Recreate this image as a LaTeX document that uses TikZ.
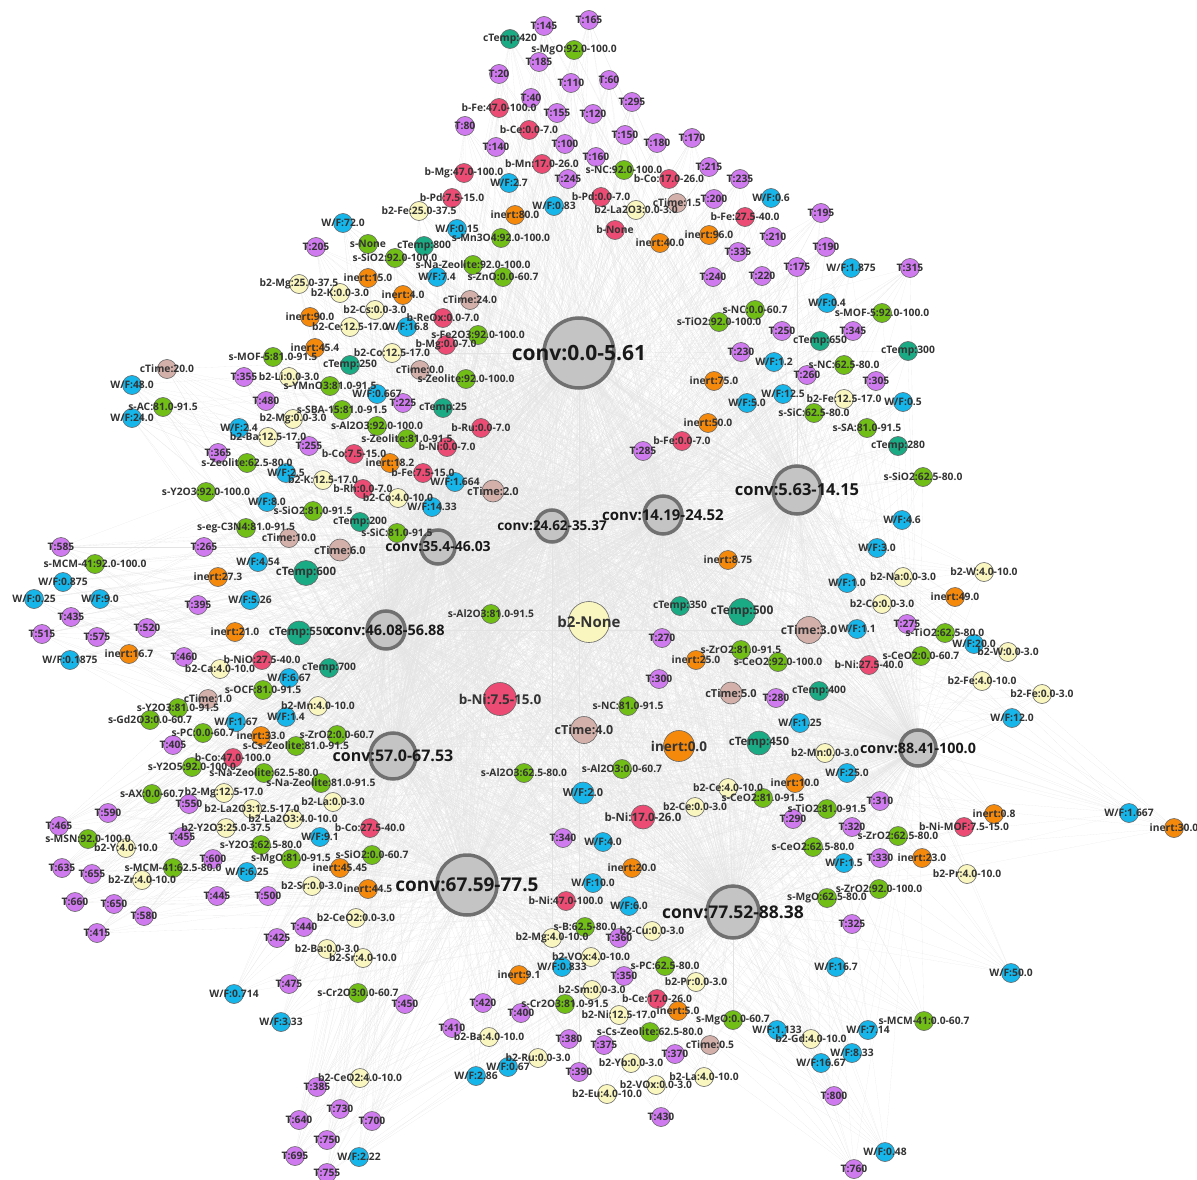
\documentclass[tikz,border=0pt]{standalone}
\usepackage{fontspec}
\setmainfont{Open Sans}
\definecolor{cT}{RGB}{208,122,240}
\definecolor{cW}{RGB}{22,182,235}
\definecolor{cS}{RGB}{112,190,22}
\definecolor{cB}{RGB}{236,76,116}
\definecolor{cY}{RGB}{250,246,192}
\definecolor{cI}{RGB}{245,137,12}
\definecolor{cC}{RGB}{26,170,132}
\definecolor{cM}{RGB}{212,176,170}
\definecolor{cHub}{RGB}{196,196,196}
\definecolor{cHubB}{RGB}{112,112,112}
\pgfdeclarelayer{edges}
\pgfsetlayers{edges,main}
\tikzset{
  dot/.style={circle, draw=black!60, line width=0.6pt, minimum size=19pt, inner sep=0pt},
  vT/.style={dot, fill=cT}, vW/.style={dot, fill=cW}, vS/.style={dot, fill=cS},
  vB/.style={dot, fill=cB}, vY/.style={dot, fill=cY}, vI/.style={dot, fill=cI},
  vC/.style={dot, fill=cC}, vM/.style={dot, fill=cM},
  hub/.style={circle, draw=cHubB, fill=cHub, line width=3.5pt, inner sep=0pt},
  lbl/.style={inner sep=0pt, text=black!80, font=\fontsize{10.3}{11}\selectfont\bfseries},
  hlbl/.style={inner sep=0pt, text=black!90},
  edge/.style={draw=black!11, line width=0.08pt}
}
\newcount\ndc
\newcommand\hubs{%
\hb{1}{579}{353}{70}{21}{conv:0.0-5.61}
\hb{2}{797}{490}{48}{16.5}{conv:5.63-14.15}
\hb{3}{663}{515}{38}{15}{conv:14.19-24.52}
\hb{4}{552}{526}{32}{13.5}{conv:24.62-35.37}
\hb{5}{438}{547}{34}{14}{conv:35.4-46.03}
\hb{6}{386}{630}{38}{14.5}{conv:46.08-56.88}
\hb{7}{393}{756}{46}{16}{conv:57.0-67.53}
\hb{8}{467}{885}{60}{19}{conv:67.59-77.5}
\hb{9}{733}{912}{52}{17.5}{conv:77.52-88.38}
\hb{10}{918}{748}{36}{14.3}{conv:88.41-100.0}
}
\newcommand\alldata{%
\nd{589}{20}{vT}{T:165}
\nd{544}{26}{vT}{T:145}
\nd{510}{39}{vC}{cTemp:420}
\nd{574}{50}{vS}{s-MgO:92.0-100.0}
\nd{539}{62}{vT}{T:185}
\nd{499}{74}{vT}{T:20}
\nd{571}{83}{vT}{T:110}
\nd{609}{80}{vT}{T:60}
\nd{531}{98}{vT}{T:40}
\nd{499}{108}{vB}{b-Fe:47.0-100.0}
\nd{632}{102}{vT}{T:295}
\nd{557}{113}{vT}{T:155}
\nd{593}{114}{vT}{T:120}
\nd{465}{126}{vT}{T:80}
\nd{529}{130}{vB}{b-Ce:0.0-7.0}
\nd{625}{135}{vT}{T:150}
\nd{657}{143}{vT}{T:180}
\nd{692}{138}{vT}{T:170}
\nd{496}{147}{vT}{T:140}
\nd{565}{144}{vT}{T:100}
\nd{596}{157}{vT}{T:160}
\nd{542}{164}{vB}{b-Mn:17.0-26.0}
\nd{709}{167}{vT}{T:215}
\nd{740}{179}{vT}{T:235}
\nd{464}{173}{vB}{b-Mg:47.0-100.0}
\nd{509}{183}{vW}{W/F:2.7}
\nd{568}{179}{vT}{T:245}
\nd{624}{170}{vS}{s-NC:92.0-100.0}
\nd{669}{179}{vB}{b-Co:17.0-26.0}
\nd{452}{198}{vB}{b-Pd:7.5-15.0}
\nd{419}{211}{vY}{b2-Fe:25.0-37.5}
\nd{515}{215}{vI}{inert:80.0}
\nd{554}{206}{vW}{W/F:0.83}
\nd{601}{197}{vB}{b-Pd:0.0-7.0}
\nd{636}{210}{vY}{b2-La2O3:0.0-3.0}
\nd{677}{203}{vM}{cTime:1.5}
\nd{714}{199}{vT}{T:200}
\nd{771}{198}{vW}{W/F:0.6}
\nd{745}{217}{vB}{b-Fe:27.5-40.0}
\nd{773}{237}{vT}{T:210}
\nd{615}{230}{vB}{b-None}
\nd{709}{235}{vI}{inert:96.0}
\nd{660}{243}{vI}{inert:40.0}
\nd{738}{252}{vT}{T:335}
\nd{457}{229}{vW}{W/F:0.15}
\nd{501}{238}{vS}{s-Mn3O4:92.0-100.0}
\nd{424}{246}{vC}{cTemp:800}
\nd{473}{265}{vS}{s-Na-Zeolite:92.0-100.0}
\nd{437}{277}{vW}{W/F:7.4}
\nd{503}{277}{vS}{s-ZnO:0.0-60.7}
\nd{713}{277}{vT}{T:240}
\nd{762}{276}{vT}{T:220}
\nd{797}{267}{vT}{T:175}
\nd{403}{295}{vI}{inert:4.0}
\nd{470}{300}{vM}{cTime:24.0}
\nd{821}{213}{vT}{T:195}
\nd{826}{247}{vT}{T:190}
\nd{851}{268}{vW}{W/F:1.875}
\nd{910}{268}{vT}{T:315}
\nd{343}{223}{vW}{W/F:72.0}
\nd{316}{247}{vT}{T:205}
\nd{368}{244}{vS}{s-None}
\nd{395}{258}{vS}{s-SiO2:92.0-100.0}
\nd{368}{278}{vI}{inert:15.0}
\nd{299}{284}{vY}{b2-Mg:25.0-37.5}
\nd{340}{293}{vY}{b2-K:0.0-3.0}
\nd{375}{310}{vY}{b2-Cs:0.0-3.0}
\nd{310}{317}{vI}{inert:90.0}
\nd{350}{327}{vY}{b2-Ce:12.5-17.0}
\nd{315}{348}{vI}{inert:45.4}
\nd{392}{353}{vY}{b2-Co:12.5-17.0}
\nd{273}{357}{vS}{s-MOF-5:81.0-91.5}
\nd{350}{365}{vC}{cTemp:250}
\nd{167}{369}{vM}{cTime:20.0}
\nd{132}{385}{vW}{W/F:48.0}
\nd{244}{377}{vT}{T:355}
\nd{289}{377}{vY}{b2-Li:0.0-3.0}
\nd{330}{386}{vS}{s-YMnO3:81.0-91.5}
\nd{377}{394}{vW}{W/F:0.667}
\nd{266}{401}{vT}{T:480}
\nd{163}{407}{vS}{s-AC:81.0-91.5}
\nd{132}{418}{vW}{W/F:24.0}
\nd{342}{410}{vS}{s-SBA-15:81.0-91.5}
\nd{293}{419}{vY}{b2-Mg:0.0-3.0}
\nd{377}{426}{vS}{s-Al2O3:92.0-100.0}
\nd{239}{428}{vW}{W/F:2.4}
\nd{268}{437}{vY}{b2-Ba:12.5-17.0}
\nd{309}{446}{vT}{T:255}
\nd{407}{439}{vS}{s-Zeolite:81.0-91.5}
\nd{218}{453}{vT}{T:365}
\nd{354}{454}{vB}{b-Co:7.5-15.0}
\nd{390}{463}{vI}{inert:18.2}
\nd{247}{463}{vS}{s-Zeolite:62.5-80.0}
\nd{286}{473}{vW}{W/F:2.5}
\nd{323}{480}{vY}{b2-K:12.5-17.0}
\nd{363}{489}{vB}{b-Rh:0.0-7.0}
\nd{398}{498}{vY}{b2-Co:4.0-10.0}
\nd{206}{492}{vS}{s-Y2O3:92.0-100.0}
\nd{267}{502}{vW}{W/F:8.0}
\nd{313}{511}{vS}{s-SiO2:81.0-91.5}
\nd{360}{522}{vC}{cTemp:200}
\nd{397}{533}{vS}{s-SiC:81.0-91.5}
\nd{246}{528}{vS}{s-eg-C3N4:81.0-91.5}
\nd{289}{538}{vM}{cTime:10.0}
\nd{61}{547}{vT}{T:585}
\nd{204}{547}{vT}{T:265}
\bn{340}{550}{vM}{22}{11}{cTime:6.0}
\nd{95}{564}{vS}{s-MCM-41:92.0-100.0}
\nd{258}{562}{vW}{W/F:4.54}
\bn{306}{573}{vC}{25}{11.5}{cTemp:600}
\nd{218}{577}{vI}{inert:27.3}
\nd{63}{582}{vW}{W/F:0.875}
\nd{34}{599}{vW}{W/F:0.25}
\nd{100}{599}{vW}{W/F:9.0}
\nd{198}{605}{vT}{T:395}
\nd{250}{600}{vW}{W/F:5.26}
\nd{443}{318}{vB}{b-ReOx:0.0-7.0}
\nd{407}{327}{vW}{W/F:16.8}
\nd{478}{335}{vS}{s-Fe2O3:92.0-100.0}
\nd{446}{345}{vB}{b-Mg:0.0-7.0}
\nd{420}{370}{vM}{cTime:0.0}
\nd{466}{379}{vS}{s-Zeolite:92.0-100.0}
\nd{403}{403}{vT}{T:225}
\nd{443}{408}{vC}{cTemp:25}
\nd{481}{428}{vB}{b-Ru:0.0-7.0}
\nd{447}{447}{vB}{b-Ni:0.0-7.0}
\nd{423}{473}{vB}{b-Fe:7.5-15.0}
\nd{455}{482}{vW}{W/F:1.664}
\bn{493}{491}{vM}{22}{11}{cTime:2.0}
\nd{432}{507}{vW}{W/F:14.33}
\nd{755}{310}{vS}{s-NC:0.0-60.7}
\nd{719}{322}{vS}{s-TiO2:92.0-100.0}
\nd{782}{331}{vT}{T:250}
\nd{741}{352}{vT}{T:230}
\nd{774}{362}{vW}{W/F:1.2}
\nd{714}{381}{vI}{inert:75.0}
\nd{783}{394}{vW}{W/F:12.5}
\nd{747}{403}{vW}{W/F:5.0}
\nd{708}{423}{vI}{inert:50.0}
\nd{682}{441}{vB}{b-Fe:0.0-7.0}
\nd{643}{451}{vT}{T:285}
\nd{728}{560}{vI}{inert:8.75}
\nd{827}{303}{vW}{W/F:0.4}
\nd{882}{313}{vS}{s-MOF-5:92.0-100.0}
\nd{853}{331}{vT}{T:345}
\nd{820}{341}{vC}{cTemp:650}
\nd{908}{351}{vC}{cTemp:300}
\nd{844}{365}{vS}{s-NC:62.5-80.0}
\nd{807}{375}{vT}{T:260}
\nd{876}{381}{vT}{T:305}
\nd{844}{399}{vY}{b2-Fe:12.5-17.0}
\nd{903}{402}{vW}{W/F:0.5}
\nd{814}{413}{vS}{s-SiC:62.5-80.0}
\nd{867}{428}{vS}{s-SA:81.0-91.5}
\nd{898}{446}{vC}{cTemp:280}
\nd{923}{477}{vS}{s-SiO2:62.5-80.0}
\nd{902}{520}{vW}{W/F:4.6}
\nd{877}{548}{vW}{W/F:3.0}
\nd{847}{583}{vW}{W/F:1.0}
\nd{903}{577}{vY}{b2-Na:0.0-3.0}
\nd{984}{572}{vY}{b2-W:4.0-10.0}
\nd{955}{597}{vI}{inert:49.0}
\nd{882}{604}{vY}{b2-Co:0.0-3.0}
\bn{809}{630}{vM}{27}{12}{cTime:3.0}
\nd{857}{629}{vW}{W/F:1.1}
\nd{907}{624}{vT}{T:275}
\nd{945}{633}{vS}{s-TiO2:62.5-80.0}
\nd{974}{644}{vW}{W/F:20.0}
\nd{1008}{652}{vY}{b2-W:0.0-3.0}
\nd{921}{656}{vS}{s-CeO2:0.0-60.7}
\nd{869}{665}{vB}{b-Ni:27.5-40.0}
\nd{982}{681}{vY}{b2-Fe:4.0-10.0}
\nd{1042}{694}{vY}{b2-Fe:0.0-3.0}
\nd{819}{691}{vC}{cTemp:400}
\nd{1012}{718}{vW}{W/F:12.0}
\nd{800}{723}{vW}{W/F:1.25}
\nd{825}{753}{vY}{b2-Mn:0.0-3.0}
\nd{847}{773}{vW}{W/F:25.0}
\nd{795}{783}{vI}{inert:10.0}
\nd{880}{801}{vT}{T:310}
\nd{827}{809}{vS}{s-TiO2:81.0-91.5}
\nd{994}{814}{vI}{inert:0.8}
\nd{1129}{813}{vW}{W/F:1.667}
\nd{1174}{828}{vI}{inert:30.0}
\nd{852}{827}{vT}{T:320}
\nd{964}{827}{vB}{b-Ni-MOF:7.5-15.0}
\nd{898}{836}{vS}{s-ZrO2:62.5-80.0}
\nd{813}{847}{vS}{s-CeO2:62.5-80.0}
\nd{880}{858}{vT}{T:330}
\nd{844}{863}{vW}{W/F:1.5}
\nd{922}{858}{vI}{inert:23.0}
\nd{967}{874}{vY}{b2-Pr:4.0-10.0}
\nd{879}{889}{vS}{s-ZrO2:92.0-100.0}
\nd{827}{898}{vS}{s-MgO:62.5-80.0}
\nd{793}{819}{vT}{T:290}
\nd{491}{614}{vS}{s-Al2O3:81.0-91.5}
\bn{589}{622}{vY}{41}{15}{b2-None}
\nd{680}{606}{vC}{cTemp:350}
\bn{742}{612}{vC}{27}{12}{cTemp:500}
\nd{662}{638}{vT}{T:270}
\nd{741}{650}{vS}{s-ZrO2:81.0-91.5}
\nd{696}{660}{vI}{inert:25.0}
\nd{778}{662}{vS}{s-CeO2:92.0-100.0}
\nd{659}{679}{vT}{T:300}
\bn{500}{699}{vB}{33}{13.5}{b-Ni:7.5-15.0}
\bn{731}{693}{vM}{22}{11}{cTime:5.0}
\nd{776}{698}{vT}{T:280}
\nd{628}{706}{vS}{s-NC:81.0-91.5}
\bn{584}{730}{vM}{27}{12.5}{cTime:4.0}
\bn{679}{746}{vI}{31}{13.5}{inert:0.0}
\bn{759}{743}{vC}{24}{11.5}{cTemp:450}
\nd{524}{773}{vS}{s-Al2O3:62.5-80.0}
\nd{622}{769}{vS}{s-Al2O3:0.0-60.7}
\bn{583}{793}{vW}{22}{11}{W/F:2.0}
\nd{728}{788}{vY}{b2-Ce:4.0-10.0}
\nd{763}{798}{vS}{s-CeO2:81.0-91.5}
\nd{695}{807}{vY}{b2-Ce:0.0-3.0}
\bn{643}{817}{vB}{24}{11.5}{b-Ni:17.0-26.0}
\nd{563}{838}{vT}{T:340}
\nd{603}{842}{vW}{W/F:4.0}
\nd{632}{868}{vI}{inert:20.0}
\nd{593}{883}{vW}{W/F:10.0}
\nd{71}{617}{vT}{T:435}
\nd{42}{634}{vT}{T:515}
\nd{97}{637}{vT}{T:575}
\nd{147}{628}{vT}{T:520}
\nd{235}{632}{vI}{inert:21.0}
\bn{299}{633}{vC}{24}{11.5}{cTemp:550}
\nd{70}{660}{vW}{W/F:0.1875}
\nd{129}{654}{vI}{inert:16.7}
\nd{184}{657}{vT}{T:460}
\nd{262}{660}{vB}{b-NiO:27.5-40.0}
\nd{220}{669}{vY}{b2-Ca:4.0-10.0}
\nd{329}{668}{vC}{cTemp:700}
\nd{289}{678}{vW}{W/F:6.67}
\nd{263}{690}{vS}{s-OCF:81.0-91.5}
\nd{208}{699}{vM}{cTime:1.0}
\nd{178}{708}{vS}{s-Y2O3:81.0-91.5}
\nd{318}{706}{vY}{b2-Mn:4.0-10.0}
\nd{150}{720}{vS}{s-Gd2O3:0.0-60.7}
\nd{236}{722}{vW}{W/F:1.67}
\nd{286}{717}{vW}{W/F:1.4}
\nd{203}{733}{vS}{s-PC:0.0-60.7}
\nd{261}{736}{vI}{inert:33.0}
\nd{337}{735}{vS}{s-ZrO2:0.0-60.7}
\nd{296}{746}{vS}{s-Cs-Zeolite:81.0-91.5}
\nd{173}{745}{vT}{T:405}
\nd{233}{758}{vB}{b-Co:47.0-100.0}
\nd{192}{767}{vS}{s-Y2O5:92.0-100.0}
\nd{264}{773}{vS}{s-Na-Zeolite:62.5-80.0}
\nd{321}{783}{vS}{s-Na-Zeolite:81.0-91.5}
\nd{152}{794}{vS}{s-AX:0.0-60.7}
\nd{224}{793}{vY}{b2-Mg:12.5-17.0}
\nd{189}{804}{vT}{T:550}
\nd{333}{802}{vY}{b2-La:0.0-3.0}
\nd{252}{809}{vY}{b2-La2O3:12.5-17.0}
\nd{108}{813}{vT}{T:590}
\nd{293}{819}{vY}{b2-La2O3:4.0-10.0}
\nd{59}{826}{vT}{T:465}
\nd{370}{828}{vB}{b-Co:27.5-40.0}
\nd{226}{828}{vY}{b2-Y2O3:25.0-37.5}
\nd{320}{837}{vW}{W/F:9.1}
\nd{88}{839}{vS}{s-MSN:92.0-100.0}
\nd{182}{837}{vT}{T:455}
\nd{126}{848}{vY}{b2-Y:4.0-10.0}
\nd{261}{845}{vS}{s-Y2O3:62.5-80.0}
\nd{372}{855}{vS}{s-SiO2:0.0-60.7}
\nd{62}{868}{vT}{T:635}
\nd{213}{859}{vT}{T:600}
\nd{291}{859}{vS}{s-MgO:81.0-91.5}
\nd{340}{868}{vI}{inert:45.45}
\nd{173}{868}{vS}{s-MCM-41:62.5-80.0}
\nd{92}{874}{vT}{T:655}
\nd{247}{872}{vW}{W/F:6.25}
\nd{142}{880}{vY}{b2-Zr:4.0-10.0}
\nd{312}{886}{vY}{b2-Sr:0.0-3.0}
\nd{368}{889}{vI}{inert:44.5}
\nd{217}{896}{vT}{T:445}
\nd{268}{896}{vT}{T:500}
\nd{75}{902}{vT}{T:660}
\nd{114}{904}{vT}{T:650}
\nd{144}{916}{vT}{T:580}
\nd{97}{933}{vT}{T:415}
\nd{304}{927}{vT}{T:440}
\nd{356}{918}{vY}{b2-CeO2:0.0-3.0}
\nd{277}{938}{vT}{T:425}
\nd{327}{949}{vY}{b2-Ba:0.0-3.0}
\nd{363}{958}{vY}{b2-Sr:4.0-10.0}
\nd{289}{984}{vT}{T:475}
\nd{234}{994}{vW}{W/F:0.714}
\nd{358}{993}{vS}{s-Cr2O3:0.0-60.7}
\nd{405}{1004}{vT}{T:450}
\nd{281}{1022}{vW}{W/F:3.33}
\nd{360}{1078}{vY}{b2-CeO2:4.0-10.0}
\nd{317}{1087}{vT}{T:385}
\nd{340}{1109}{vT}{T:730}
\nd{299}{1120}{vT}{T:640}
\nd{372}{1121}{vT}{T:700}
\nd{327}{1140}{vT}{T:750}
\nd{295}{1156}{vT}{T:695}
\nd{359}{1157}{vW}{W/F:2.22}
\nd{327}{1173}{vT}{T:755}
\nd{566}{901}{vB}{b-Ni:47.0-100.0}
\nd{629}{906}{vW}{W/F:6.0}
\nd{585}{927}{vS}{s-B:62.5-80.0}
\nd{652}{931}{vY}{b2-Cu:0.0-3.0}
\nd{552}{938}{vY}{b2-Mg:4.0-10.0}
\nd{619}{938}{vT}{T:360}
\nd{591}{957}{vY}{b2-VOx:4.0-10.0}
\nd{562}{967}{vW}{W/F:0.833}
\nd{665}{966}{vS}{s-PC:62.5-80.0}
\nd{519}{975}{vI}{inert:9.1}
\nd{624}{976}{vT}{T:350}
\nd{696}{982}{vY}{b2-Pr:0.0-3.0}
\nd{592}{990}{vY}{b2-Sm:0.0-3.0}
\nd{657}{999}{vB}{b-Ce:17.0-26.0}
\nd{678}{1011}{vI}{inert:5.0}
\nd{483}{1003}{vT}{T:420}
\nd{565}{1004}{vS}{s-Cr2O3:81.0-91.5}
\nd{521}{1013}{vT}{T:400}
\nd{619}{1015}{vY}{b2-Ni:12.5-17.0}
\nd{733}{1020}{vS}{s-MgO:0.0-60.7}
\nd{777}{1030}{vW}{W/F:1.133}
\nd{452}{1028}{vT}{T:410}
\nd{489}{1037}{vY}{b2-Ba:4.0-10.0}
\nd{569}{1039}{vT}{T:380}
\nd{650}{1032}{vS}{s-Cs-Zeolite:62.5-80.0}
\nd{604}{1045}{vT}{T:375}
\nd{710}{1045}{vM}{cTime:0.5}
\nd{675}{1054}{vT}{T:370}
\nd{538}{1058}{vY}{b2-Ru:0.0-3.0}
\nd{508}{1067}{vW}{W/F:0.67}
\nd{631}{1063}{vY}{b2-Yb:0.0-3.0}
\nd{579}{1072}{vT}{T:390}
\nd{476}{1076}{vW}{W/F:2.86}
\nd{704}{1077}{vY}{b2-La:4.0-10.0}
\nd{656}{1085}{vY}{b2-VOx:0.0-3.0}
\nd{607}{1094}{vY}{b2-Eu:4.0-10.0}
\nd{661}{1117}{vT}{T:430}
\nd{852}{924}{vT}{T:325}
\nd{836}{967}{vW}{W/F:16.7}
\nd{1011}{973}{vW}{W/F:50.0}
\nd{924}{1021}{vS}{s-MCM-41:0.0-60.7}
\nd{868}{1030}{vW}{W/F:7.14}
\nd{811}{1039}{vY}{b2-Gd:4.0-10.0}
\nd{852}{1053}{vW}{W/F:8.33}
\nd{821}{1063}{vW}{W/F:16.67}
\nd{834}{1096}{vT}{T:800}
\nd{885}{1152}{vW}{W/F:0.48}
\nd{854}{1169}{vT}{T:760}
}
\begin{document}
\begin{tikzpicture}[x=1pt,y=-1pt]
\useasboundingbox (0,0) rectangle (1197,1180);
% hub circles
\def\hb#1#2#3#4#5#6{\node[hub,minimum size=#4pt] (h#1) at (#2,#3) {};}
\hubs
% condition nodes
\global\ndc=0
\def\nd#1#2#3#4{\global\advance\ndc by 1 \edef\cur{n\the\ndc}%
  \node[#3] (\cur) at (#1,#2) {};}
\def\bn#1#2#3#4#5#6{\global\advance\ndc by 1 \edef\cur{n\the\ndc}%
  \node[#3,minimum size=#4pt] (\cur) at (#1,#2) {};}
\alldata
% connectors to the conversion hubs, behind everything
\begin{pgfonlayer}{edges}
\global\ndc=0
\def\nd#1#2#3#4{\global\advance\ndc by 1 \edef\cur{n\the\ndc}%
  \foreach \h in {1,...,10}{\draw[edge] (\cur) -- (h\h);}}
\def\bn#1#2#3#4#5#6{\global\advance\ndc by 1 \edef\cur{n\the\ndc}%
  \foreach \h in {1,...,10}{\draw[edge] (\cur) -- (h\h);}}
\alldata
\end{pgfonlayer}
% labels
\global\ndc=0
\def\nd#1#2#3#4{\global\advance\ndc by 1 \edef\cur{n\the\ndc}%
  \node[lbl] (l\the\ndc) at (\cur) {#4};}
\def\bn#1#2#3#4#5#6{\global\advance\ndc by 1 \edef\cur{n\the\ndc}%
  \node[lbl,font=\fontsize{#5}{#5}\selectfont\bfseries] (l\the\ndc) at (\cur) {#6};}
\alldata
\def\hb#1#2#3#4#5#6{\node[hlbl,font=\fontsize{#5}{#5}\selectfont\bfseries] (hl#1) at (h#1) {#6};}
\hubs
\end{tikzpicture}
\end{document}
